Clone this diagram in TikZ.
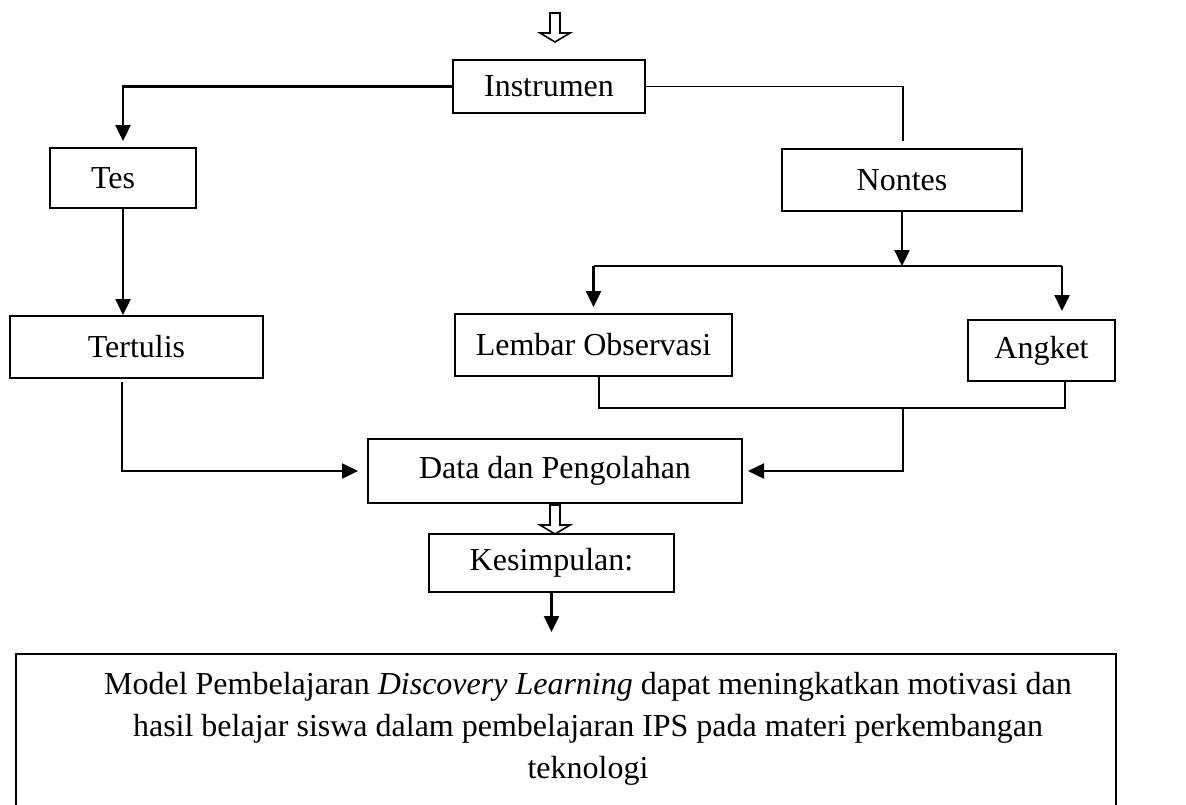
\documentclass[tikz,border=0pt]{standalone}
\usepackage{fontspec}
\setmainfont{Liberation Serif}
\usetikzlibrary{positioning,arrows.meta}

\tikzset{
  box/.style = {draw, line width=1pt, inner sep=0pt},
  arr/.style = {-{Triangle[length=8pt,width=7.5pt]}, line width=1.2pt},
  link/.style = {line width=0.8pt},
  hollow/.pic = {
    \draw[line width=0.8pt] (-5,0) -- (-5,20) -- (-15,20) -- (0,29)
      -- (15,20) -- (5,20) -- (5,0) -- cycle;
  }
}

\begin{document}
\begin{tikzpicture}[x=0.5pt, y=-0.5pt,
    every node/.style = {align=center, font=\fontsize{16}{21}\selectfont}]
  \clip (0,0) rectangle (1186,804);

  % boxes
  \node[box, minimum width=96pt, minimum height=26.5pt] (instrumen) at (549,86.5) {Instrumen};
  \node[box, minimum width=73pt, minimum height=30pt] (tes) at (123,178) {Tes\hspace{10pt}};
  \node[box, minimum width=120pt, minimum height=31pt] (nontes) at (902,180) {Nontes};
  \node[box, minimum width=126.5pt, minimum height=31pt] (tertulis) at (136.5,347) {Tertulis};
  \node[box, minimum width=138.5pt, minimum height=31pt] (lembar) at (593.5,345) {Lembar Observasi};
  \node[box, minimum width=73.5pt, minimum height=30.5pt] (angket) at (1041.5,350.5) {Angket};
  \node[box, minimum width=187pt, minimum height=32pt] (data) at (555,471) {Data dan Pengolahan};
  \node[box, minimum width=122.5pt, minimum height=29pt] (kesimpulan) at (551.5,563) {Kesimpulan:};
  \node[box, minimum width=550pt, minimum height=100pt, anchor=north] (hasil) at (566,653) {};
  \node (hasiltext) at (588,729) {Model Pembelajaran \textit{Discovery Learning} dapat meningkatkan motivasi dan\\
    hasil belajar siswa dalam pembelajaran IPS pada materi perkembangan\\
    teknologi};

  % junctions
  \coordinate (split) at (902,266);
  \coordinate (lefttop) at (593.5,266);
  \coordinate (righttop) at (1062,266);
  \coordinate (joinL) at (599,408);
  \coordinate (joinR) at (1065,408);
  \coordinate (drop) at (903,408);
  \coordinate (tleft) at (122,382);

  % connectors
  \pic at (555,13) {hollow};
  \draw[arr, shorten >=3pt] (instrumen.west) -| (tes.north);
  \draw[link] (instrumen.east) -| ([yshift=3.5pt]nontes.north -| drop);
  \draw[arr] (tes.south) -- (tes.south |- tertulis.north);
  \draw[arr] (nontes.south) -- (split);
  \draw[link] (lefttop) -- (righttop);
  \draw[arr, shorten >=3pt] (lefttop) -- (lembar.north);
  \draw[arr, shorten >=4pt] (righttop) -- (righttop |- angket.north);
  \draw[link] (joinL |- lembar.south) -- (joinL) -- (joinR) -- (joinR |- angket.south);
  \draw[arr, shorten >=2.5pt] (drop) |- (data.east);
  \draw[arr, shorten >=4.5pt] (tleft) |- (data.west);
  \pic at (555,505) {hollow};
  \draw[arr, shorten >=10.5pt] (kesimpulan.south) -- (kesimpulan.south |- hasil.north);
\end{tikzpicture}
\end{document}
